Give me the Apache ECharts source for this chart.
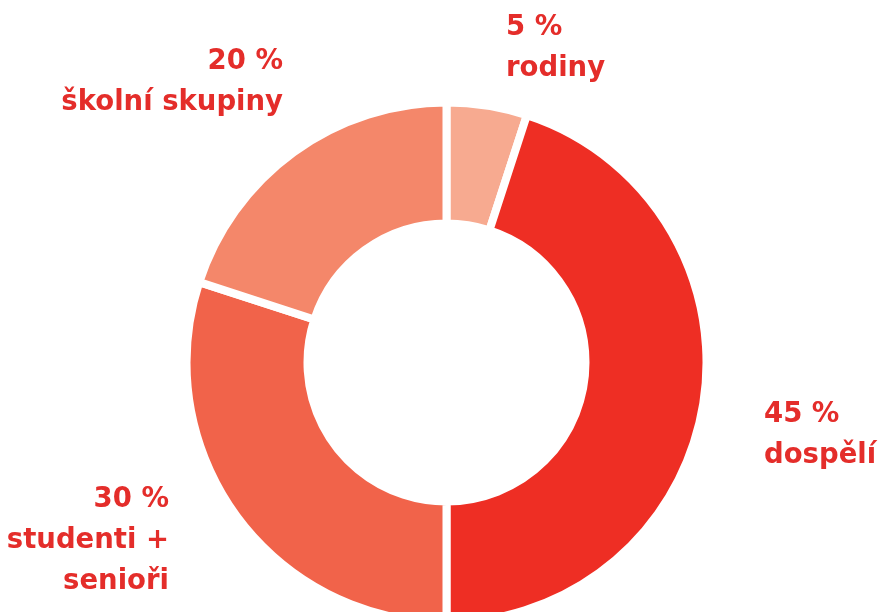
<!DOCTYPE html>
<html>
<head>
<meta charset="utf-8">
<script src="https://cdn.jsdelivr.net/npm/echarts@6/dist/echarts.min.js"></script>
<style>html,body{margin:0;padding:0;background:#fff}#c{width:881px;height:612px}</style>
</head>
<body>
<div id="c"></div>
<script>
const categories = ['rodiny', 'dospělí', 'studenti +\nsenioři', 'školní skupiny'];
const values = [5, 45, 30, 20];
const colors = ['#f7aa90', '#ee2e24', '#f1634a', '#f4876a'];
const labelPos = [
  {x: 506, y: 48, align: 'left'},
  {x: 764, y: 435, align: 'left'},
  {x: 169, y: 541, align: 'right'},
  {x: 283, y: 82, align: 'right'}
];

const chart = echarts.init(document.getElementById('c'));
chart.setOption({
  animation: false,
  series: [{
    type: 'pie',
    center: [446.5, 362.5],
    radius: [139, 260],
    startAngle: 90,
    clockwise: true,
    itemStyle: {borderColor: '#fff', borderWidth: 8},
    label: {
      show: true,
      formatter: p => p.value + ' %\n' + p.name,
      color: '#e42d2a',
      fontFamily: 'DejaVu Sans',
      fontWeight: 'bold',
      fontSize: 27.5,
      lineHeight: 41
    },
    labelLine: {show: false},
    labelLayout: function (params) {
      const p = labelPos[params.dataIndex];
      return {x: p.x, y: p.y, align: p.align, verticalAlign: 'middle'};
    },
    emphasis: {disabled: true},
    data: categories.map((c, i) => ({name: c, value: values[i], itemStyle: {color: colors[i]}}))
  }]
});
</script>
</body>
</html>
